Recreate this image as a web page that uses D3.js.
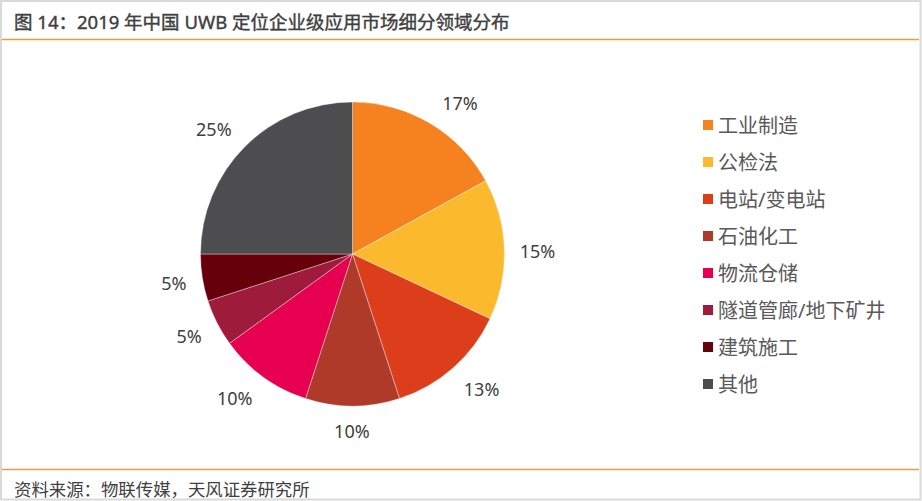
<!DOCTYPE html>
<html>
<head>
<meta charset="utf-8">
<script src="https://cdn.jsdelivr.net/npm/d3@7"></script>
<style>
  body { margin: 0; background: #fff; }
  svg { display: block; }
  text { font-family: "Noto Sans", "Noto Sans CJK SC", sans-serif; }
</style>
</head>
<body>
<div id="chart"></div>
<script>
// 数据
const categories = ["工业制造", "公检法", "电站/变电站", "石油化工", "物流仓储", "隧道管廊/地下矿井", "建筑施工", "其他"];
const shares = [17, 15, 13, 10, 10, 5, 5, 25];
const colors = ["#F5821F", "#FBB92D", "#DC3D1B", "#B03A2A", "#E6004F", "#9E1B3C", "#66000B", "#4D4D4F"];
// 标签角度微调（度）
const labelNudge = [4.8, 0.9, -2.4, 0.2, 3.3, 0.4, -0.2, -2.9];

const W = 922, H = 501;
const cx = 352.5, cy = 254, r = 152;

const svg = d3.select("#chart").append("svg")
    .attr("width", W)
    .attr("height", H);

// 边框
svg.append("rect")
    .attr("x", 1).attr("y", 1)
    .attr("width", W - 2.5).attr("height", H - 2.5)
    .attr("fill", "#fff")
    .attr("stroke", "#d9d9d9")
    .attr("stroke-width", 2);

// 标题
svg.append("text")
    .attr("x", 14).attr("y", 21)
    .attr("dominant-baseline", "central")
    .attr("font-size", 18.5)
    .attr("fill", "#404040")
    .attr("stroke", "#404040")
    .attr("stroke-width", 0.4)
    .text("图 14：2019 年中国 UWB 定位企业级应用市场细分领域分布");

svg.append("line")
    .attr("x1", 2).attr("x2", W - 3)
    .attr("y1", 39.5).attr("y2", 39.5)
    .attr("stroke", "#F39A3E")
    .attr("stroke-width", 1.5);

svg.append("line")
    .attr("x1", 2).attr("x2", W - 3)
    .attr("y1", 469.5).attr("y2", 469.5)
    .attr("stroke", "#F39A3E")
    .attr("stroke-width", 1.5);

svg.append("text")
    .attr("x", 14).attr("y", 489)
    .attr("dominant-baseline", "central")
    .attr("font-size", 17.4)
    .attr("fill", "#404040")
    .text("资料来源：物联传媒，天风证券研究所");

// 饼图
const pie = d3.pie().sort(null).value(d => d);
const arcs = pie(shares);
const arc = d3.arc().innerRadius(0).outerRadius(r);

const g = svg.append("g").attr("transform", `translate(${cx},${cy})`);

g.selectAll("path")
    .data(arcs)
    .enter()
    .append("path")
    .attr("d", arc)
    .attr("fill", (d, i) => colors[i])
    .attr("stroke", "#fff")
    .attr("stroke-opacity", 0.6)
    .attr("stroke-width", 0.6);

// 数据标签
const labels = g.selectAll("text.lbl")
    .data(arcs)
    .enter()
    .append("text")
    .attr("class", "lbl")
    .attr("font-size", 18)
    .attr("fill", "#404040")
    .attr("text-anchor", "middle")
    .attr("dominant-baseline", "central")
    .text(d => d.value + "%");

labels.each(function(d, i) {
    const a = (d.startAngle + d.endAngle) / 2 + labelNudge[i] * Math.PI / 180;
    const w = this.getComputedTextLength();
    const h = 20;
    const ext = Math.abs(Math.sin(a)) * w / 2 + Math.abs(Math.cos(a)) * h / 2;
    const dist = r + 15 + ext;
    d3.select(this)
        .attr("x", Math.sin(a) * dist)
        .attr("y", -Math.cos(a) * dist);
});

// 图例
const legend = svg.append("g").attr("transform", "translate(703,125)");
const rowH = 37;

const items = legend.selectAll("g")
    .data(categories)
    .enter()
    .append("g")
    .attr("transform", (d, i) => `translate(0,${i * rowH})`);

items.append("rect")
    .attr("x", 0).attr("y", -5)
    .attr("width", 10).attr("height", 10)
    .attr("fill", (d, i) => colors[i]);

items.append("text")
    .attr("x", 15).attr("y", 0)
    .attr("dominant-baseline", "central")
    .attr("font-size", 20)
    .attr("fill", "#595959")
    .text(d => d);
</script>
</body>
</html>
